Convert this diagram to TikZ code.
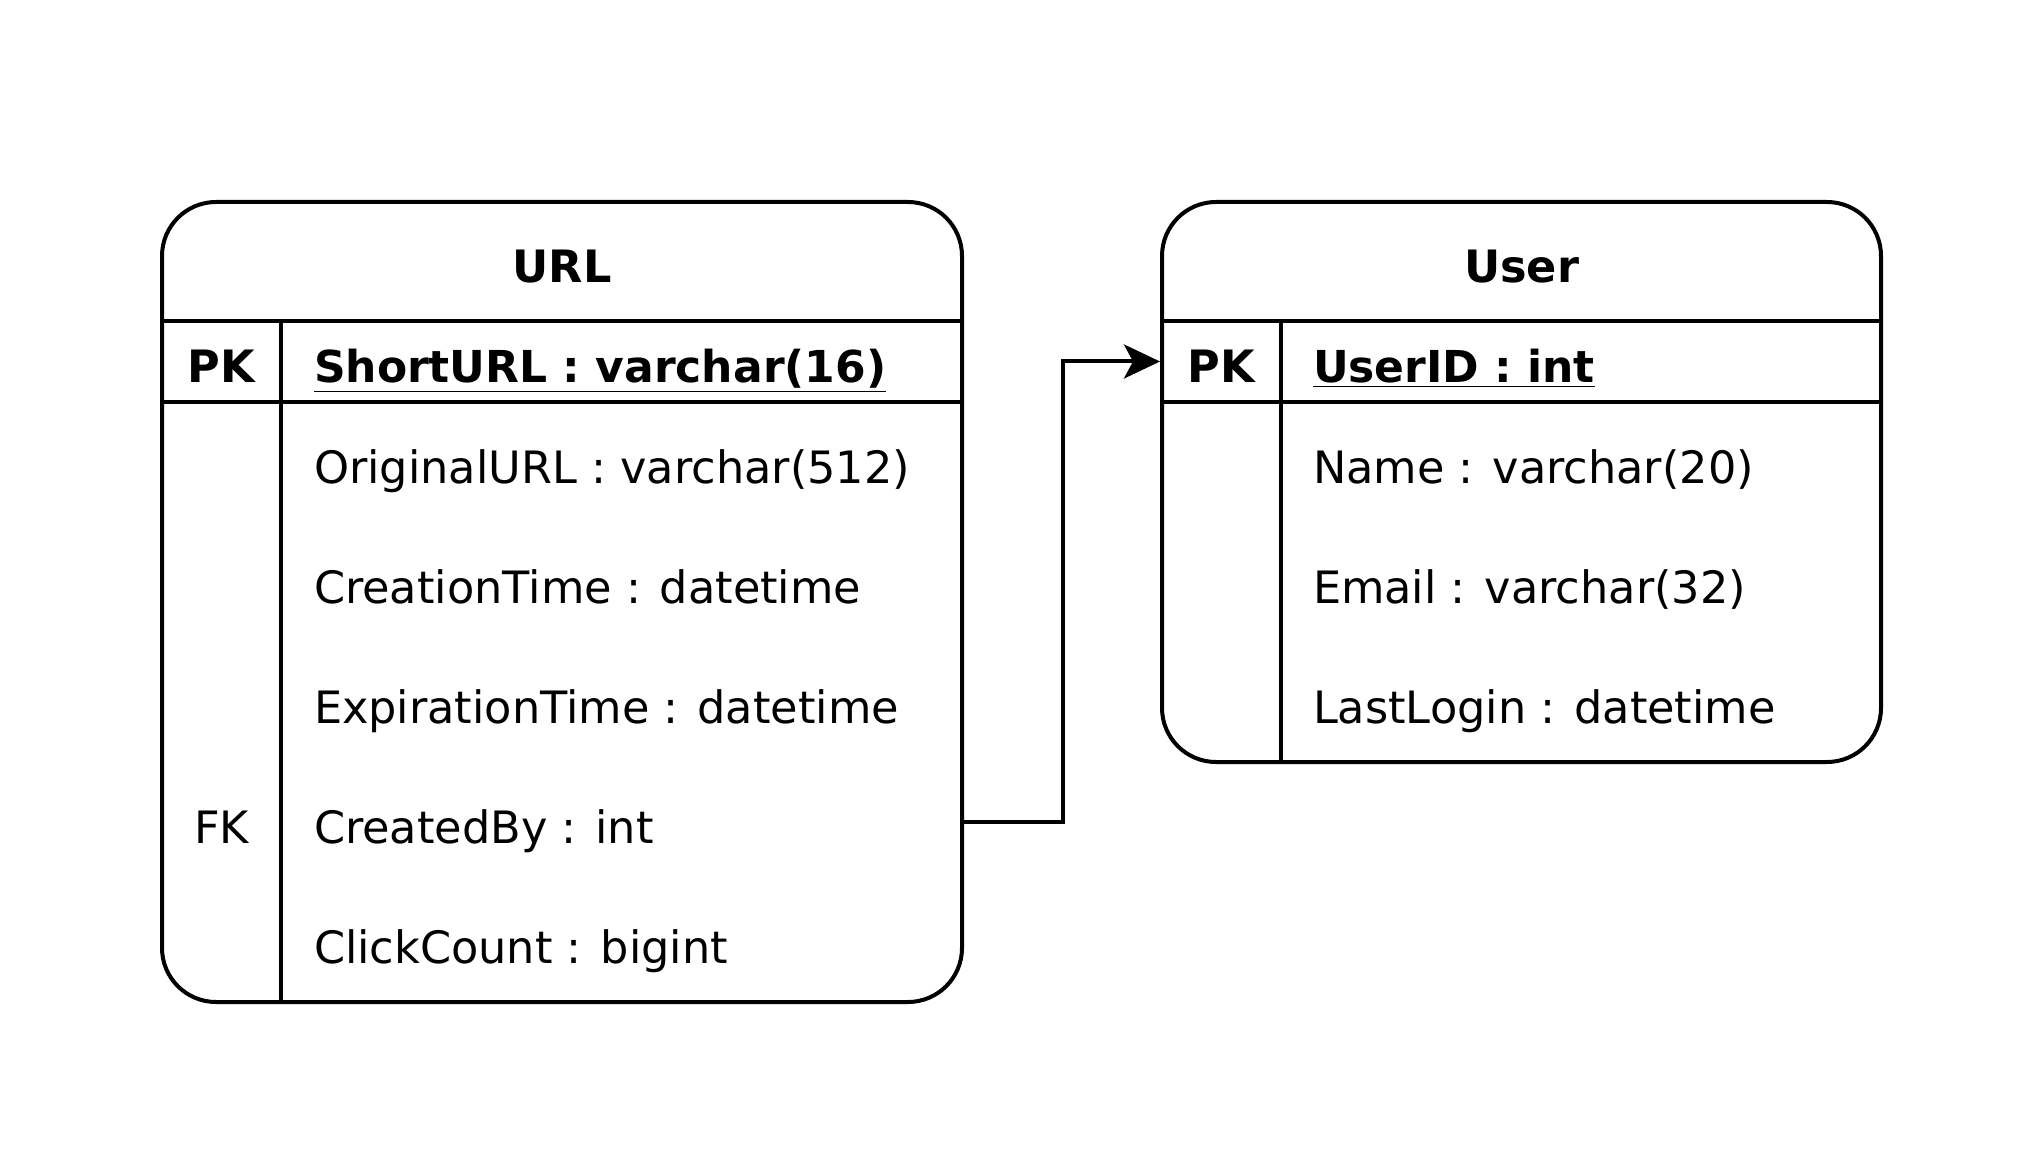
\documentclass[tikz,border=0pt]{standalone}
\usepackage{fontspec}
\setmainfont{DejaVu Sans}
\usetikzlibrary{arrows.meta}

\begin{document}
\begin{tikzpicture}[x=0.5pt,y=-0.5pt,line width=2pt,
  tbl/.style={draw,rounded corners=27pt,inner sep=0pt},
  txt/.style={inner sep=0pt,text height=23pt,text depth=2pt,
    font=\fontsize{22.3pt}{26pt}\selectfont},
  fld/.style={txt,anchor=west},
  key/.style={txt},
  ttl/.style={txt,font=\fontsize{22.3pt}{26pt}\selectfont\bfseries},
  fk/.style={-{Stealth[length=18pt,width=17pt,inset=4.5pt]}}]
\useasboundingbox (0,0) rectangle (2040,1160);
% URL table
\scope
\node[tbl,minimum width=400pt,minimum height=400pt] (url) at (562,602) {};
\draw (162,321) -- (962,321)
      (162,402) -- (962,402)
      (281,321) -- (281,1002);
\node[ttl] (urltitle) at (562,261.5) {URL};
\node[key,font=\fontsize{22.3pt}{26pt}\selectfont\bfseries] (urlpk) at (221.5,361.5) {PK};
\node[fld,font=\fontsize{22pt}{26pt}\selectfont\bfseries] (shorturl) at (312,361.5) {\underline{ShortURL : varchar(16)}};
\node[fld] (origurl) at (312,462) {OriginalURL : varchar(512)};
\node[fld] (ctime) at (312,582) {CreationTime : datetime};
\node[fld] (etime) at (312,702) {ExpirationTime : datetime};
\node[key] (urlfk) at (221.5,822) {FK};
\node[fld] (createdby) at (312,822) {CreatedBy : int};
\node[fld] (clicks) at (312,942) {ClickCount : bigint};
\endscope
% User table
\scope
\node[tbl,minimum width=359.5pt,minimum height=280pt] (user) at (1521.5,482) {};
\draw (1162,321) -- (1881,321)
      (1162,402) -- (1881,402)
      (1281,321) -- (1281,762);
\node[ttl] (usertitle) at (1521.5,261.5) {User};
\node[key,font=\fontsize{22.3pt}{26pt}\selectfont\bfseries] (userpk) at (1221.5,361.5) {PK};
\node[fld,font=\fontsize{22pt}{26pt}\selectfont\bfseries] (userid) at (1311,361.5) {\underline{UserID~: int}};
\node[fld] (name) at (1311,462) {Name : varchar(20)};
\node[fld] (email) at (1311,582) {Email : varchar(32)};
\node[fld] (lastlogin) at (1311,702) {LastLogin : datetime};
\endscope
% foreign key
\draw[fk] (url.east |- urlfk) -- (1063,822) |- (user.west |- userpk);
\end{tikzpicture}
\end{document}
